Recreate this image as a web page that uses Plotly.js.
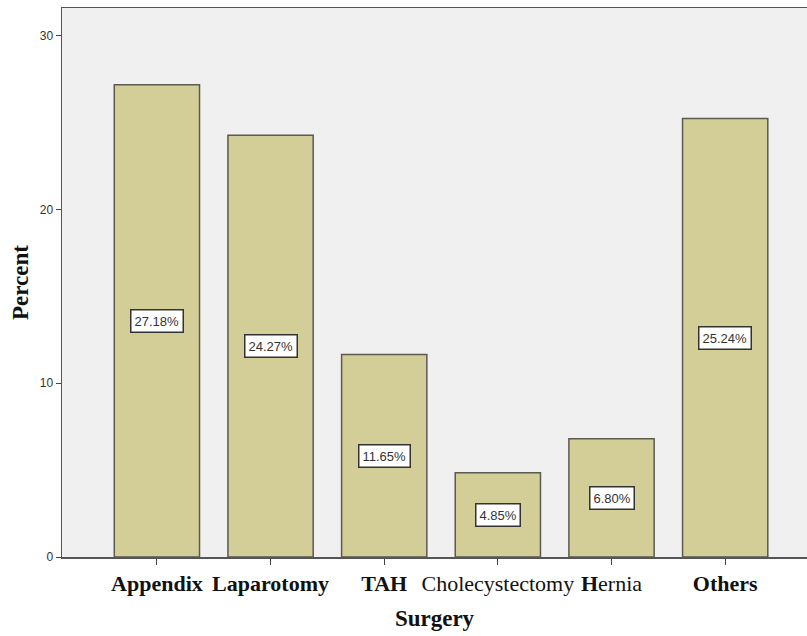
<!DOCTYPE html>
<html><head><meta charset="utf-8">
<script src="https://cdn.plot.ly/plotly-3.0.1.min.js"></script>
<style>html,body{margin:0;padding:0;background:#fff}#chart{width:807px;height:636px}</style>
</head><body><div id="chart"></div>
<script>
const categories = ["Appendix","Laparotomy","TAH","Cholecystectomy","Hernia","Others"];
const tickLabels = ["<b>Appendix</b>","<b>Laparotomy</b>","<b>TAH</b>","Cholecystectomy","<b>H</b>ernia","<b>Others</b>"];
const percents = [27.18, 24.27, 11.65, 4.85, 6.80, 25.24];
const labels = ["27.18%","24.27%","11.65%","4.85%","6.80%","25.24%"];
const yTicks = [0,10,20,30];

const trace = {
  type: "bar", x: categories, y: percents, width: 0.75,
  marker: {color: "#d3ce98", line: {color: "#5a5a50", width: 1.5}},
  hoverinfo: "none"
};
const annotations = categories.map((c, i) => ({
  x: c, y: percents[i] / 2, text: labels[i], showarrow: false,
  font: {family: "Arial, Liberation Sans, sans-serif", size: 13, color: "#333"},
  bgcolor: "#ffffff", bordercolor: "#333", borderwidth: 1.5, borderpad: 3
}));
const serif = "Liberation Serif, Times New Roman, serif";
const layout = {
  width: 807, height: 636,
  margin: {l: 62, r: 0, t: 8, b: 79},
  paper_bgcolor: "#ffffff", plot_bgcolor: "#f0f0f0",
  showlegend: false,
  xaxis: {
    type: "category", range: [-0.835, 5.72],
    tickvals: categories, ticktext: tickLabels, tickangle: 0,
    showline: true, linecolor: "#555", linewidth: 1.5, mirror: true,
    ticks: "outside", ticklen: 6, tickcolor: "#444",
    tickfont: {family: serif, size: 22, color: "#111"},
    title: {text: "<b>Surgery</b>", standoff: 15, font: {family: serif, size: 23, color: "#111"}},
    showgrid: false, fixedrange: true
  },
  yaxis: {
    range: [0, 31.6], tickvals: yTicks,
    showline: true, linecolor: "#555", linewidth: 1.5,
    ticks: "outside", ticklen: 5, tickcolor: "#444",
    tickfont: {family: "Arial, Liberation Sans, sans-serif", size: 12, color: "#333"},
    title: {text: "<b>Percent</b>", standoff: 4, font: {family: serif, size: 23, color: "#111"}},
    showgrid: false, zeroline: false, fixedrange: true
  },
  annotations: annotations
};
Plotly.newPlot("chart", [trace], layout, {displayModeBar: false, staticPlot: true});
</script></body></html>
